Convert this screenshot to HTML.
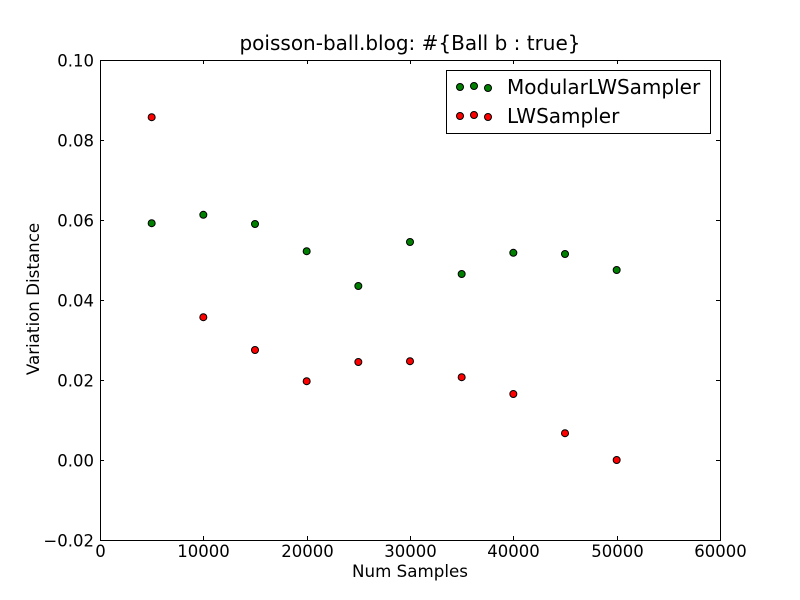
<!DOCTYPE html>
<html><head><meta charset="utf-8"><style>
body{margin:0;background:#fff;}
svg{display:block;font-family:"DejaVu Sans","Liberation Sans",sans-serif;}
</style></head><body>
<svg id="chart" width="800" height="600" viewBox="0 0 800 600">
<rect width="800" height="600" fill="#fff"/>
<text x="410" y="50" font-size="20" text-anchor="middle">poisson-ball.blog: #{Ball b : true}</text>
<g id="axes"></g>
<g id="marks"></g>
<text x="410" y="577" font-size="16.7" text-anchor="middle">Num Samples</text>
<text transform="translate(39,299) rotate(-90)" font-size="16.7" text-anchor="middle">Variation Distance</text>
<g>
<rect x="446.5" y="70.5" width="264" height="63" fill="#fff" stroke="#000"/>
<g>
<circle cx="460" cy="87" r="3.5" fill="#008000" stroke="#000" stroke-width="1"/>
<circle cx="474" cy="86" r="3.5" fill="#008000" stroke="#000" stroke-width="1"/>
<circle cx="488" cy="88" r="3.5" fill="#008000" stroke="#000" stroke-width="1"/>
<text x="507" y="94" font-size="20">ModularLWSampler</text>
</g>
<g>
<circle cx="460" cy="116" r="3.5" fill="#ff0000" stroke="#000" stroke-width="1"/>
<circle cx="474" cy="115" r="3.5" fill="#ff0000" stroke="#000" stroke-width="1"/>
<circle cx="488" cy="117" r="3.5" fill="#ff0000" stroke="#000" stroke-width="1"/>
<text x="507" y="123" font-size="20">LWSampler</text>
</g>
</g>
</svg>
<script>
const samples = [5000,10000,15000,20000,25000,30000,35000,40000,45000,50000];
const modularValues = [0.0592,0.0613,0.059,0.0522,0.0435,0.0545,0.0465,0.0518,0.0515,0.0475];
const lwValues = [0.0857,0.0357,0.0275,0.0197,0.0245,0.0247,0.0207,0.0165,0.0067,0.0];
const xTicks = [0,10000,20000,30000,40000,50000,60000];
const yTicks = [-0.02,0,0.02,0.04,0.06,0.08,0.10];
const yTickLabels = ["\u22120.02","0.00","0.02","0.04","0.06","0.08","0.10"];

const L=100,R=720,T=60,B=540;
const xS=v=>L+(v-0)/(60000)*(R-L);
const yS=v=>B-(v+0.02)/0.12*(B-T);
const NS="http://www.w3.org/2000/svg";
function mk(tag,attrs,parent){const e=document.createElementNS(NS,tag);for(const k in attrs)e.setAttribute(k,attrs[k]);parent.appendChild(e);return e;}
const axes=document.getElementById('axes'), marks=document.getElementById('marks');
const frame=mk('rect',{x:L+0.5,y:T+0.5,width:R-L,height:B-T,fill:'none',stroke:'#000'},axes);


xTicks.forEach(v=>{const x=Math.round(xS(v))+0.5;
 mk('line',{x1:x,y1:B,x2:x,y2:B-4,stroke:'#000'},axes);
 mk('line',{x1:x,y1:T,x2:x,y2:T+4,stroke:'#000'},axes);
 const t=mk('text',{x:x,y:B+17,'font-size':16.5,'text-anchor':'middle'},axes);t.textContent=v;
 
 
});
yTicks.forEach((v,i)=>{const y=Math.round(yS(v))+0.5;
 mk('line',{x1:L,y1:y,x2:L+4,y2:y,stroke:'#000'},axes);
 mk('line',{x1:R,y1:y,x2:R-4,y2:y,stroke:'#000'},axes);
 const t=mk('text',{x:L-6,y:y+6,'font-size':16.5,'text-anchor':'end'},axes);t.textContent=yTickLabels[i];
 
 
});
function series(vals,color,name){vals.forEach((v,i)=>{
 const c=mk('circle',{cx:xS(samples[i]),cy:yS(v),r:3.5,fill:color,stroke:'#000','stroke-width':1},marks);
 
 
});}
series(modularValues,'#008000','modular');
series(lwValues,'#ff0000','lw');
</script>
</body></html>
